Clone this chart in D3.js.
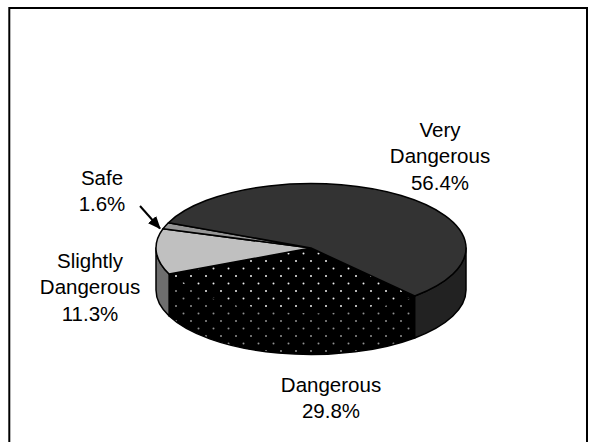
<!DOCTYPE html>
<html>
<head>
<meta charset="utf-8">
<script src="https://cdn.jsdelivr.net/npm/d3@7/dist/d3.min.js"></script>
<style>
  html, body { margin: 0; padding: 0; background: #fff; }
  svg { display: block; }
  text { font-family: "Liberation Sans", Arial, sans-serif; }
</style>
</head>
<body>
<svg id="chart" width="589" height="442"></svg>
<script>
// ---- data ----
const categories = ["Dangerous", "Slightly Dangerous", "Safe", "Very Dangerous"];
const values = [29.8, 11.3, 1.6, 56.4];
const labelLines = [["Dangerous", "29.8%"], ["Slightly", "Dangerous", "11.3%"], ["Safe", "1.6%"], ["Very", "Dangerous", "56.4%"]];
const topColors = ["url(#dotsTop)", "#c0c0c0", "#969696", "#333333"];
const sideColors = ["url(#dotsSide)", "#6e6e6e", "#5a5a5a", "#222222"];

// ---- layout ----
const W = 589, H = 442;
const cx = 311, cy = 248, rx = 155, ry = 64.5, depth = 42;
const startDeg = 48; // screen angle (clockwise from +x) where first slice starts

const svg = d3.select("#chart");
svg.append("rect").attr("width", W).attr("height", H).attr("fill", "#fff");

const defs = svg.append("defs");
function dotPattern(id, dotColor) {
  const p = defs.append("pattern").attr("id", id)
    .attr("patternUnits", "userSpaceOnUse")
    .attr("width", 15).attr("height", 15)
    .attr("x", 11).attr("y", 6);
  p.append("rect").attr("width", 15).attr("height", 15).attr("fill", "#000");
  [[0, 0], [7.5, 7.5], [15, 0], [0, 15], [15, 15]].forEach(([x, y]) =>
    p.append("circle").attr("cx", x).attr("cy", y).attr("r", 1).attr("fill", dotColor));
}
dotPattern("dotsTop", "#f0f0f0");
dotPattern("dotsSide", "#909090");

const toRad = d => d * Math.PI / 180;
const pie = d3.pie().sort(null).value(d => d)
  .startAngle(toRad(startDeg)).endAngle(toRad(startDeg + 360));
const arcs = pie(values);

// screen angle theta (radians, clockwise from +x, y down)
const pt = (t, dy = 0) => [cx + rx * Math.cos(t), cy + ry * Math.sin(t) + dy];

function topPath(a0, a1) {
  const p0 = pt(a0), p1 = pt(a1);
  const large = (a1 - a0) > Math.PI ? 1 : 0;
  return `M${cx},${cy}L${p0[0]},${p0[1]}A${rx},${ry} 0 ${large} 1 ${p1[0]},${p1[1]}Z`;
}
function sidePath(a0, a1) {
  const p0 = pt(a0), p1 = pt(a1), q1 = pt(a1, depth), q0 = pt(a0, depth);
  const large = (a1 - a0) > Math.PI ? 1 : 0;
  return `M${p0[0]},${p0[1]}A${rx},${ry} 0 ${large} 1 ${p1[0]},${p1[1]}` +
         `L${q1[0]},${q1[1]}A${rx},${ry} 0 ${large} 0 ${q0[0]},${q0[1]}Z`;
}

// visible side segments: intersect with front half [0, PI] (mod 2PI)
const sides = [];
arcs.forEach((a, i) => {
  const a0 = a.startAngle, a1 = a.endAngle;
  for (let k = -1; k <= 2; k++) {
    const lo = Math.max(a0, k * 2 * Math.PI), hi = Math.min(a1, k * 2 * Math.PI + Math.PI);
    if (hi > lo + 1e-6) sides.push({ i, a0: lo, a1: hi });
  }
});

svg.append("g").selectAll("path").data(sides).join("path")
  .attr("d", d => sidePath(d.a0, d.a1))
  .attr("fill", d => sideColors[d.i])
  .attr("stroke", "#000").attr("stroke-width", 1.5).attr("stroke-linejoin", "round");

svg.append("g").selectAll("path").data(arcs).join("path")
  .attr("d", d => topPath(d.startAngle, d.endAngle))
  .attr("fill", (d, i) => topColors[i])
  .attr("stroke", "#000").attr("stroke-width", 1.5).attr("stroke-linejoin", "round");

// ---- labels ----
const labelPos = [[331, 392], [90, 268], [102, 185], [440, 137]];
const lineH = 26.3;
const lg = svg.append("g");
labelLines.forEach((lines, i) => {
  const t = lg.append("text").attr("text-anchor", "middle")
    .attr("font-size", 20.5).attr("fill", "#000")
    .attr("x", labelPos[i][0]).attr("y", labelPos[i][1]);
  lines.forEach((s, j) => t.append("tspan").attr("x", labelPos[i][0])
    .attr("dy", j === 0 ? 0 : lineH).text(s));
});

// arrow for Safe label
defs.append("marker").attr("id", "arrowHead")
  .attr("viewBox", "0 0 12 10").attr("refX", 11).attr("refY", 5)
  .attr("markerWidth", 13).attr("markerHeight", 11)
  .attr("markerUnits", "userSpaceOnUse").attr("orient", "auto")
  .append("path").attr("d", "M0,0L12,5L0,10Z").attr("fill", "#000");
svg.append("line").attr("x1", 140).attr("y1", 206).attr("x2", 160).attr("y2", 228.5)
  .attr("stroke", "#000").attr("stroke-width", 2).attr("marker-end", "url(#arrowHead)");

// border
svg.append("rect").attr("x", 9.3).attr("y", 8).attr("width", 577.7).attr("height", 450)
  .attr("fill", "none").attr("stroke", "#000").attr("stroke-width", 2);
</script>
</body>
</html>
